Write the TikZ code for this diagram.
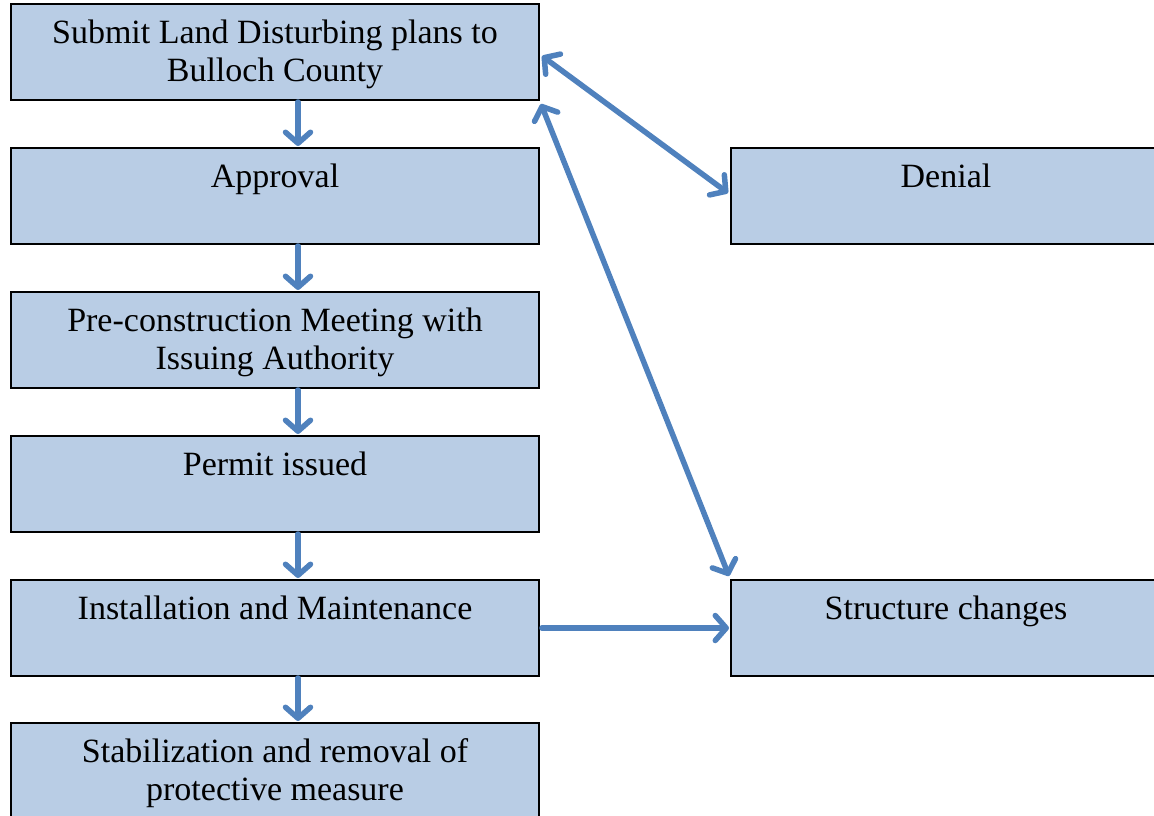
\documentclass[tikz,border=0pt]{standalone}
\usepackage{fontspec}
\setmainfont{Liberation Serif}
\usetikzlibrary{arrows.meta}
\definecolor{boxfill}{HTML}{B9CDE5}
\definecolor{arrowblue}{HTML}{4F81BD}
\begin{document}
\begin{tikzpicture}[x=1pt,y=-1pt,
  box/.style={draw=black,line width=1.6pt,fill=boxfill},
  lbl/.style={align=center,font=\fontsize{34}{38}\selectfont,anchor=base,inner sep=0pt},
  conn/.style={draw=arrowblue,line width=5.5pt,line cap=round,
    -{Straight Barb[length=11pt,width=25pt,line width=5.5pt,round]}},
  conn2/.style={conn,{Straight Barb[length=11pt,width=25pt,line width=5.5pt,round]}-{Straight Barb[length=11pt,width=25pt,line width=5.5pt,round]}}]
\useasboundingbox (0,0) rectangle (1154,815);
\clip (0,0) rectangle (1154,815);
% left column
\path[box] (11,4) rectangle (539,100);
\path[box] (11,148) rectangle (539,244);
\path[box] (11,292) rectangle (539,388);
\path[box] (11,436) rectangle (539,532);
\path[box] (11,580) rectangle (539,676);
\path[box] (11,723) rectangle (539,830);
% right column
\path[box] (731,148) rectangle (1165,244);
\path[box] (731,580) rectangle (1165,676);
% labels (base anchor = baseline of the last line)
\node[lbl] (t1) at (275,81) {Submit Land Disturbing plans to\\Bulloch County};
\node[lbl] (t2) at (275,187) {Approval};
\node[lbl] (t3) at (275,369) {Pre-construction Meeting with\\Issuing Authority};
\node[lbl] (t4) at (275,475) {Permit issued};
\node[lbl] (t5) at (275,619) {Installation and Maintenance};
\node[lbl] (t6) at (275,800) {Stabilization and removal of\\protective measure};
\node[lbl] (td) at (946,187) {Denial};
\node[lbl] (ts) at (946,619) {Structure changes};
% anchor coordinates on box edges
\coordinate (b1s) at (298,102);
\coordinate (b2n) at (298,146);
\coordinate (b2s) at (298,246);
\coordinate (b3n) at (298,290);
\coordinate (b3s) at (298,390);
\coordinate (b4n) at (298,434);
\coordinate (b4s) at (298,534);
\coordinate (b5n) at (298,578);
\coordinate (b5s) at (298,678);
\coordinate (b6n) at (298,721);
\coordinate (b1e) at (542,56);
\coordinate (b1se) at (541,104);
\coordinate (dw) at (728,193);
\coordinate (snw) at (729,576);
\coordinate (b5e) at (542,628);
\coordinate (sw) at (729,628);
\draw[conn] (b1s) -- (b2n);
\draw[conn] (b2s) -- (b3n);
\draw[conn] (b3s) -- (b4n);
\draw[conn] (b4s) -- (b5n);
\draw[conn] (b5s) -- (b6n);
\draw[conn2] (b1e) -- (dw);
\draw[conn2] (b1se) -- (snw);
\draw[conn] (b5e) -- (sw);
\end{tikzpicture}
\end{document}
